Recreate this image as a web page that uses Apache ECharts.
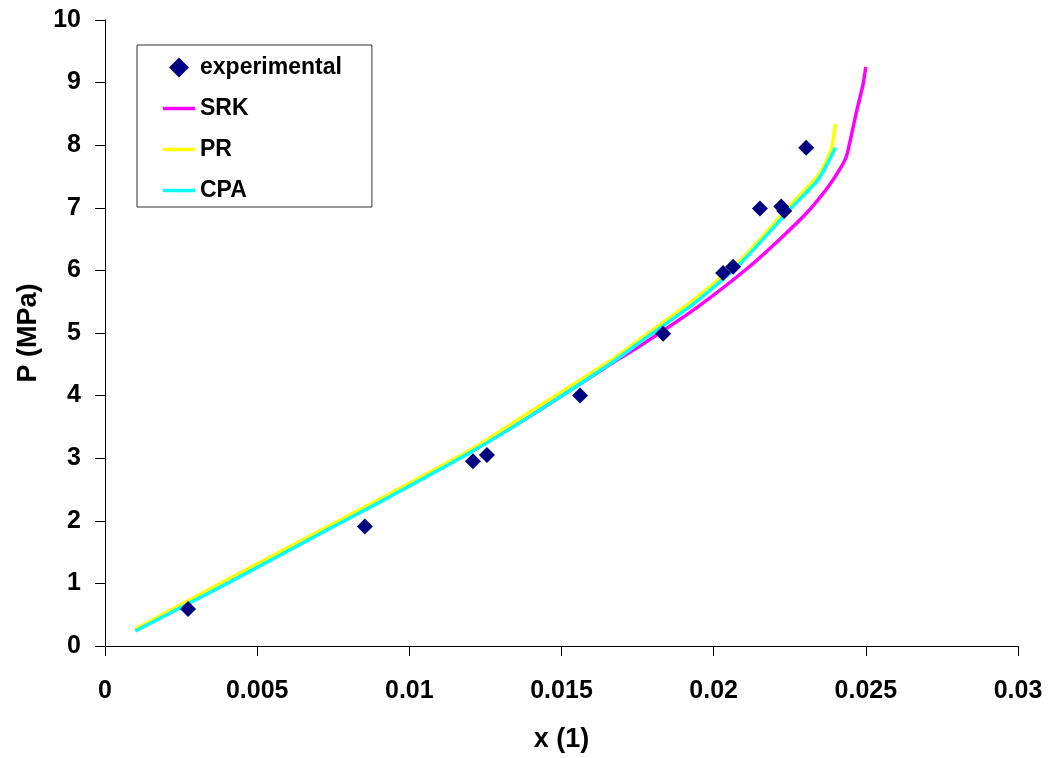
<!DOCTYPE html>
<html>
<head>
<meta charset="utf-8">
<style>
  html, body { margin: 0; padding: 0; background: #fff; }
  #chart { width: 1054px; height: 758px; }
</style>
<script src="https://cdn.jsdelivr.net/npm/echarts@6/dist/echarts.min.js"></script>
</head>
<body>
<div id="chart"></div>
<script>
// Measured pressure vs. mole fraction, [x, P (MPa)]
const experimental = [
  [0.00273, 0.59], [0.00854, 1.91], [0.01209, 2.95], [0.01255, 3.05],
  [0.01561, 4.00], [0.01834, 4.99], [0.02031, 5.96], [0.02064, 6.06],
  [0.02152, 6.99], [0.02222, 7.02], [0.02232, 6.95], [0.02304, 7.96]
];

// Model curves, [x, P (MPa)]
const srk = [
  [0.0010, 0.25], [0.0041, 1.04], [0.0074, 1.89], [0.0090, 2.31],
  [0.0120, 3.10], [0.0140, 3.68], [0.0167, 4.53], [0.0176, 4.80],
  [0.0194, 5.39], [0.0211, 6.03], [0.0222, 6.51], [0.0231, 6.94],
  [0.0238, 7.36], [0.0242, 7.66], [0.02438, 7.85], [0.0247, 8.55],
  [0.0249, 8.95], [0.0250, 9.25]
];

const pr = [
  [0.0010, 0.27], [0.0041, 1.08], [0.0074, 1.93], [0.0090, 2.34],
  [0.0121, 3.16], [0.0140, 3.75], [0.0167, 4.59], [0.0176, 4.91],
  [0.0194, 5.55], [0.0209, 6.17], [0.0225, 7.03], [0.0234, 7.50],
  [0.0237, 7.74], [0.02389, 7.99], [0.0240, 8.34]
];

const cpa = [
  [0.0010, 0.24], [0.0041, 1.02], [0.0074, 1.88], [0.0090, 2.29],
  [0.0120, 3.09], [0.0140, 3.68], [0.0167, 4.54], [0.0176, 4.86],
  [0.0194, 5.49], [0.0209, 6.12], [0.0225, 6.97], [0.0234, 7.43],
  [0.0237, 7.67], [0.0240, 7.96]
];

const xTickLabels = ['0', '0.005', '0.01', '0.015', '0.02', '0.025', '0.03'];
const yTickLabels = ['0', '1', '2', '3', '4', '5', '6', '7', '8', '9', '10'];

const FONT = 'Liberation Sans, Arial, sans-serif';
const LINE_ICON = 'path://M0,0H32V3.5H0Z';
const DIAMOND_ICON = 'path://M0,-1L1,0L0,1L-1,0Z';

const chart = echarts.init(document.getElementById('chart'), null, { renderer: 'canvas' });

const axisCommon = {
  axisLine: { show: true, lineStyle: { color: '#000', width: 1 } },
  axisTick: { show: true, inside: false, length: 10, lineStyle: { color: '#000', width: 1 } },
  splitLine: { show: false },
  nameLocation: 'middle',
  nameTextStyle: { fontFamily: FONT, fontWeight: 'bold', fontSize: 27, color: '#000' }
};

chart.setOption({
  animation: false,
  backgroundColor: '#fff',
  grid: { left: 105, right: 36, top: 20, bottom: 110 },
  legend: {
    orient: 'vertical',
    left: 137,
    top: 45,
    padding: [11, 30, 5, 26],
    itemGap: 18,
    itemWidth: 32,
    itemHeight: 20,
    borderColor: '#333',
    borderWidth: 1,
    textStyle: { fontFamily: FONT, fontWeight: 'bold', fontSize: 23, color: '#000', lineHeight: 22 },
    data: [
      { name: 'experimental', icon: DIAMOND_ICON },
      { name: 'SRK', icon: LINE_ICON },
      { name: 'PR', icon: LINE_ICON },
      { name: 'CPA', icon: LINE_ICON }
    ]
  },
  xAxis: Object.assign({}, axisCommon, {
    type: 'value',
    min: 0,
    max: 0.03,
    interval: 0.005,
    name: 'x (1)',
    nameGap: 80,
    axisLabel: {
      margin: 33,
      fontFamily: FONT, fontWeight: 'bold', fontSize: 25, color: '#000',
      formatter: v => xTickLabels[Math.round(v / 0.005)]
    }
  }),
  yAxis: Object.assign({}, axisCommon, {
    type: 'value',
    min: 0,
    max: 10,
    interval: 1,
    name: 'P (MPa)',
    nameGap: 60,
    axisLabel: {
      margin: 24,
      fontFamily: FONT, fontWeight: 'bold', fontSize: 25, color: '#000',
      formatter: v => yTickLabels[Math.round(v)]
    }
  }),
  series: [
    {
      name: 'experimental',
      type: 'scatter',
      data: experimental,
      symbol: 'diamond',
      symbolSize: 16,
      itemStyle: { color: '#000080', opacity: 1 },
      z: 10
    },
    {
      name: 'SRK',
      type: 'line',
      data: srk,
      smooth: 0.2,
      symbol: 'none',
      lineStyle: { color: '#ff00ff', width: 3.5 },
      itemStyle: { color: '#ff00ff' },
      z: 2
    },
    {
      name: 'PR',
      type: 'line',
      data: pr,
      smooth: 0.2,
      symbol: 'none',
      lineStyle: { color: '#ffff00', width: 3.5 },
      itemStyle: { color: '#ffff00' },
      z: 3
    },
    {
      name: 'CPA',
      type: 'line',
      data: cpa,
      smooth: 0.2,
      symbol: 'none',
      lineStyle: { color: '#00ffff', width: 3.5 },
      itemStyle: { color: '#00ffff' },
      z: 4
    }
  ]
});
</script>
</body>
</html>
